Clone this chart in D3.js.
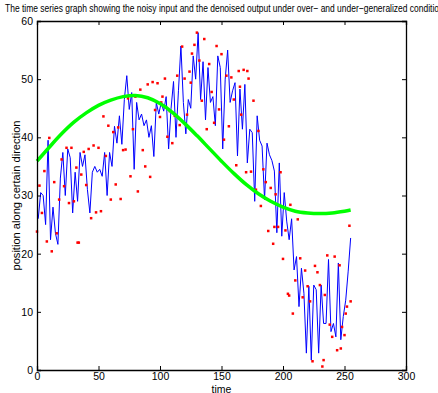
<!DOCTYPE html>
<html>
<head>
<meta charset="utf-8">
<script src="https://cdn.jsdelivr.net/npm/d3@7"></script>
<style>
  body { margin: 0; background: #fff; }
  svg { display: block; }
  text { font-family: "Liberation Sans", Arial, Helvetica, sans-serif; fill: #000; }
</style>
</head>
<body>
<svg id="chart" width="438" height="393"></svg>
<script>
// noisy input, one sample every 2 time steps starting at t=0
const redStart = 0, redStep = 2;
const noisyInput = [
  23.8, 31.7, 27, 34.2, 22.1, 39.9, 20.4, 32.3, 23.5, 29.3,
  36.2, 31.6, 38.2, 28.7, 38.2, 29, 34.8, 21.9, 33.6, 37.5,
  31.8, 38, 26.1, 38.6, 27.1, 38.2, 27.3, 43.6, 36.8, 42,
  29.3, 40.9, 31.9, 41.7, 29.4, 37.8, 37.9, 46.7, 33.3, 41.4,
  47, 30.7, 48.2, 37.8, 35, 49.1, 33.2, 49.5, 44.7, 49.3,
  43.5, 47, 50.1, 40.1, 44.5, 39, 43.7, 50.6, 42.1, 55.6,
  50.1, 43.9, 51.3, 54.4, 55.9, 58, 53.2, 46.3, 56.9, 41.4,
  52.6, 47.8, 42.5, 55.7, 44.8, 54.3, 39.6, 50.6, 41.9, 50.3,
  46.5, 35.2, 51.4, 43.9, 51.6, 34, 50.1, 34.1, 46.3, 31,
  41.1, 28.2, 34.5, 32.3, 23.9, 31.3, 21.7, 30.2, 24.6, 34,
  19.1, 24, 13.1, 28.4, 9.7, 15.4, 25.9, 19.2, 12.5, 17.1,
  14.4, 11.8, 1.5, 17.9, 16.8, 14.6, 0.6, 12.9, 19.7, 7.8,
  5.7, 19.5, 3.4, 18, 7.4, 6, 10.9, 24.8
];
// a few more noisy samples that sit between the regular ones
const noisyExtra = [
  [33, 21.9], [101, 46], [125, 49.4], [165, 48.7], [171, 51.4],
  [193, 24.6], [205, 12.8], [233, 1.7], [247, 3.7], [251, 9.7], [255, 11.8]
];

// under-generalized (denoised) output, t = 1, 3, 5 ...
const blueStart = 1, blueStep = 2;
const underFit = [
  26, 30.5, 30, 25, 39.5, 22.4, 28, 23.5, 21.6, 33,
  37.4, 30, 38, 36.5, 27, 34, 29, 37.4, 35, 37,
  31, 27, 34, 35, 34, 34.5, 33.3, 37.4, 30, 37.4,
  35, 41.9, 39, 43.7, 38.8, 46.5, 50.6, 44.8, 47.7, 34.5,
  46, 43, 44, 42, 43, 40, 42, 36.7, 46, 44,
  46, 44.5, 47, 38, 45, 49.6, 40, 48, 55.7, 46,
  40.6, 46.5, 45, 54, 50, 58, 46.5, 53, 43, 52,
  46, 47, 42, 54, 52, 38, 50, 55, 46, 48,
  49.4, 36.8, 48.3, 41.4, 49.1, 35.6, 41.4, 40.8, 29, 43.7,
  39.5, 38.5, 29.3, 39, 37, 36, 34.2, 23.6, 35.6, 23,
  30.5, 25.6, 22.4, 26, 17.2, 19.5, 10.9, 17.5, 13.2, 2.9,
  14.4, 1.7, 14.6, 13.8, 2.9, 14.6, 8, 8, 19, 6.6,
  8, 5.7, 18.4, 5.2, 9.2, 12, 17, 22.7
];

// over-generalized output (smooth)
const overTimes = [0, 10, 20, 30, 40, 50, 60, 70, 80, 90, 100, 110, 120, 130,
  140, 150, 160, 170, 180, 190, 200, 210, 220, 230, 240, 250, 255];
const overFit = [35.9, 38.3, 40.6, 42.6, 44.2, 45.5, 46.4, 47.0, 47.2, 46.8, 45.8, 44.3, 42.4, 40.3,
  38.1, 35.9, 33.8, 31.9, 30.3, 29.0, 28.0, 27.3, 27.0, 26.9, 27.0, 27.3, 27.5];

const xTicks = [0, 50, 100, 150, 200, 250, 300];
const yTicks = [0, 10, 20, 30, 40, 50, 60];

const titleText = "The time series graph showing the noisy input and the denoised output under over\u2212 and under\u2212generalized conditions";

const svg = d3.select("#chart");
const m = { left: 37, top: 21, right: 32, bottom: 23 };
const W = 438 - m.left - m.right, H = 393 - m.top - m.bottom;

const x = d3.scaleLinear().domain([0, 300]).range([0, W]);
const y = d3.scaleLinear().domain([0, 60]).range([H, 0]);

const g = svg.append("g").attr("transform", `translate(${m.left},${m.top})`);

// series
const noisy = noisyInput.map((v, i) => [redStart + i * redStep, v]).concat(noisyExtra);
const blue = underFit.map((v, i) => [blueStart + i * blueStep, v]);
const green = overTimes.map((t, i) => [t, overFit[i]]);

const line = d3.line().x(d => x(d[0])).y(d => y(d[1]));

g.append("path").datum(blue)
  .attr("d", line)
  .attr("fill", "none")
  .attr("stroke", "#0000ff")
  .attr("stroke-width", 1);

g.selectAll("rect.noisy").data(noisy).enter().append("rect")
  .attr("class", "noisy")
  .attr("x", d => x(d[0]) - 1.25)
  .attr("y", d => y(d[1]) - 1.25)
  .attr("width", 2.5)
  .attr("height", 2.5)
  .attr("fill", "#ff0000");

g.append("path").datum(green)
  .attr("d", line.curve(d3.curveCatmullRom))
  .attr("fill", "none")
  .attr("stroke", "#00ff00")
  .attr("stroke-width", 3.5);

// axes, matlab style box with inward ticks
const fmt = d3.format("d");
const axB = g.append("g").attr("transform", `translate(0,${H})`)
  .call(d3.axisBottom(x).tickValues(xTicks).tickFormat(fmt).tickSize(-4).tickPadding(3));
const axT = g.append("g")
  .call(d3.axisTop(x).tickValues(xTicks).tickFormat("").tickSize(-4));
const axL = g.append("g")
  .call(d3.axisLeft(y).tickValues(yTicks).tickFormat(fmt).tickSize(-4).tickPadding(4));
const axR = g.append("g").attr("transform", `translate(${W},0)`)
  .call(d3.axisRight(y).tickValues(yTicks).tickFormat("").tickSize(-4));

[axB, axT, axL, axR].forEach(a => {
  a.select(".domain").attr("stroke", "#000").attr("stroke-width", 1.3);
  a.selectAll(".tick line").attr("stroke", "#000");
  a.selectAll("text").attr("font-size", 10.5).attr("font-family", null);
});

// labels
svg.append("text")
  .attr("x", 5).attr("y", 12)
  .attr("font-size", 11)
  .attr("textLength", 443)
  .attr("lengthAdjust", "spacingAndGlyphs")
  .text(titleText);

svg.append("text")
  .attr("x", m.left + x(150)).attr("y", 393)
  .attr("text-anchor", "middle")
  .attr("font-size", 10.5)
  .text("time");

svg.append("text")
  .attr("transform", `translate(20,${m.top + H / 2}) rotate(-90)`)
  .attr("text-anchor", "middle")
  .attr("font-size", 10.5)
  .attr("textLength", 150)
  .attr("lengthAdjust", "spacingAndGlyphs")
  .text("position along certain direction");
</script>
</body>
</html>
